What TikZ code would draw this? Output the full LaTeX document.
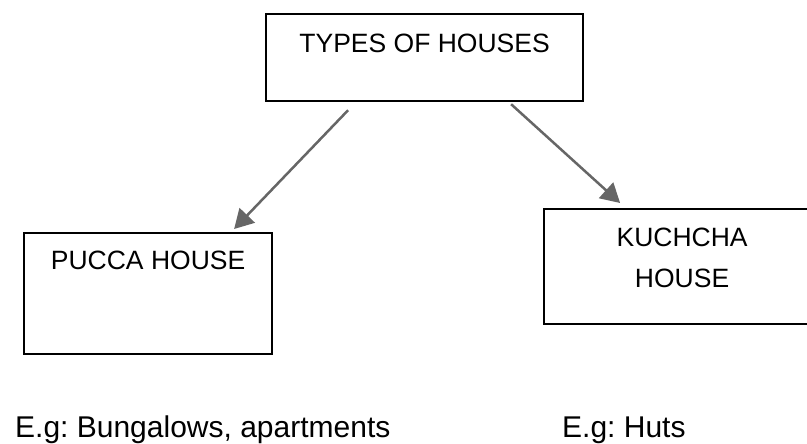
\documentclass[tikz,border=0pt]{standalone}
\usepackage{fontspec}
\setmainfont{Liberation Sans}
\usetikzlibrary{positioning, arrows.meta}
\definecolor{arrowgray}{HTML}{666666}

\begin{document}
\frenchspacing
\begin{tikzpicture}[x = 1pt, y = 1pt,
    every node/.style = { inner sep = 0pt },
    box/.style = { draw, line width = 2.2pt, anchor = north west },
    boxtext/.style = { font = \fontsize{26.5}{41}\selectfont, align = center },
    note/.style = { font = \fontsize{30}{36}\selectfont, anchor = base west },
    link/.style = { draw = arrowgray, line width = 2.5pt, -{Triangle[length = 19pt, width = 21pt]} }]
    \useasboundingbox (0,0) rectangle (807,444);
    \clip (0,0) rectangle (807,444);

    % boxes
    \node [box, minimum width = 317pt, minimum height = 87pt] (types) at (265,431) {};
    \node [box, minimum width = 248pt, minimum height = 121pt] (pucca) at (23,212) {};
    \node [box, minimum width = 276pt, minimum height = 115pt] (kuchcha) at (543,236) {};

    % box texts
    \node [boxtext, anchor = base] (types-text) at ([yshift = -40pt]types.north) {TYPES OF HOUSES};
    \node [boxtext, anchor = base] (pucca-text) at ([yshift = -38pt]pucca.north) {PUCCA HOUSE};
    \node [boxtext, anchor = north] (kuchcha-text) at ([yshift = -20pt]kuchcha.north) {KUCHCHA\\HOUSE};

    % examples
    \node [note] (pucca-eg) at (15,6) {E.g: Bungalows, apartments};
    \node [note] (kuchcha-eg) at (562,6) {E.g: Huts};

    \draw [link] ([shift = {(-76.5,-8)}]types.south) -- ([shift = {(86,3)}]pucca.north);
    \draw [link] ([shift = {(86.5,-2)}]types.south) -- ([shift = {(-62,5)}]kuchcha.north);
\end{tikzpicture}
\end{document}
